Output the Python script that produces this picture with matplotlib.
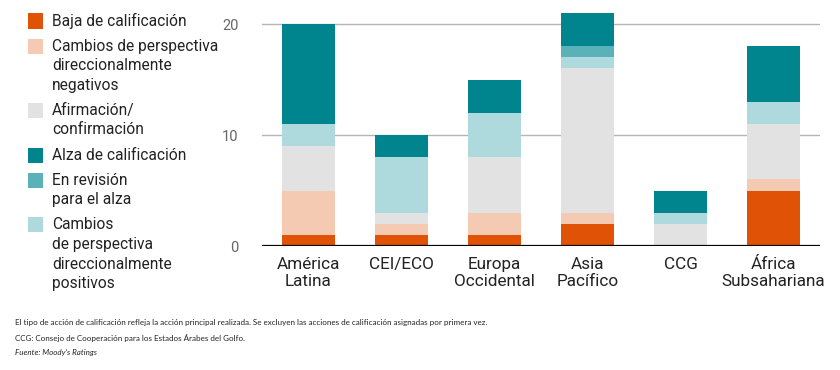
import matplotlib
matplotlib.use("Agg")
import matplotlib.pyplot as plt
from matplotlib.patches import Rectangle

plt.rcParams['font.family'] = ['Roboto', 'DejaVu Sans']

regions = ["América\nLatina", "CEI/ECO", "Europa\nOccidental",
           "Asia\nPacífico", "CCG", "África\nSubsahariana"]

# number of rating actions per type
baja = [1, 1, 1, 2, 0, 5]
neg_persp = [4, 1, 2, 1, 0, 1]
afirm = [4, 1, 5, 13, 2, 5]
pos_persp = [2, 5, 4, 1, 1, 2]
revision = [0, 0, 0, 1, 0, 0]
alza = [9, 2, 3, 3, 2, 5]

yticks = [0, 10, 20]

# stacking order bottom -> top
stack = [
    (baja, '#E05206'),
    (neg_persp, '#F5CAB2'),
    (afirm, '#E2E2E2'),
    (pos_persp, '#AEDADD'),
    (revision, '#5AB1B8'),
    (alza, '#00858F'),
]

# legend order (top -> bottom)
legend_items = [
    ("Baja de calificación", '#E05206'),
    ("Cambios de perspectiva\ndireccionalmente\nnegativos", '#F5CAB2'),
    ("Afirmación/\nconfirmación", '#E2E2E2'),
    ("Alza de calificación", '#00858F'),
    ("En revisión\npara el alza", '#5AB1B8'),
    ("Cambios\nde perspectiva\ndireccionalmente\npositivos", '#AEDADD'),
]

W, H = 840, 370
fig = plt.figure(figsize=(W / 100, H / 100), dpi=100)
ax = fig.add_axes([262 / W, 1 - 246 / H, (820 - 262) / W, (246 - 13) / H])

x = range(len(regions))
bottom = [0] * len(regions)
for vals, col in stack:
    ax.bar(x, vals, bottom=bottom, width=0.565, color=col, linewidth=0, zorder=2)
    bottom = [b + v for b, v in zip(bottom, vals)]

ax.set_xlim(-0.5, 5.5)
ax.set_ylim(0, 21)
ax.set_yticks(yticks)
ax.set_xticks(list(x))
ax.set_xticklabels(regions, fontsize=12.3, color='#222222', linespacing=1.15)
ax.tick_params(axis='y', length=0, pad=17, labelsize=10.5, labelcolor='#666666')
ax.tick_params(axis='x', length=0, pad=8)
for s in ax.spines.values():
    s.set_visible(False)
for t in yticks[1:]:
    ax.axhline(t, color='#B5B5B5', linewidth=1, zorder=1)
ax.axhline(0, color='black', linewidth=1.6, zorder=3)

# legend drawn by hand so squares line up with the first line of each label
def fx(px):
    return px / W

def fy(py):
    return 1 - py / H

line_h = 19.6
y = 21
for label, col in legend_items:
    fig.patches.append(Rectangle((fx(28), fy(y + 7.5)), 15 / W, 15 / H,
                                 transform=fig.transFigure, color=col, linewidth=0))
    lines = label.split("\n")
    for i, ln in enumerate(lines):
        fig.text(fx(52), fy(y + i * line_h), ln, fontsize=11.2, color='#222222',
                 va='center', ha='left')
    y += len(lines) * line_h + 5.5

# footnotes
fig.text(fx(15), fy(323), "El tipo de acción de calificación refleja la acción principal realizada. "
         "Se excluyen las acciones de calificación asignadas por primera vez.",
         fontsize=5.8, color='#222222', va='center', family='Lato')
fig.text(fx(15), fy(338), "CCG: Consejo de Cooperación para los Estados Árabes del Golfo.",
         fontsize=5.8, color='#222222', va='center', family='Lato')
fig.text(fx(15), fy(352), "Fuente: Moody's Ratings",
         fontsize=5.8, color='#222222', va='center', family='Lato', style='italic')

fig.savefig('out.png', dpi=100)
